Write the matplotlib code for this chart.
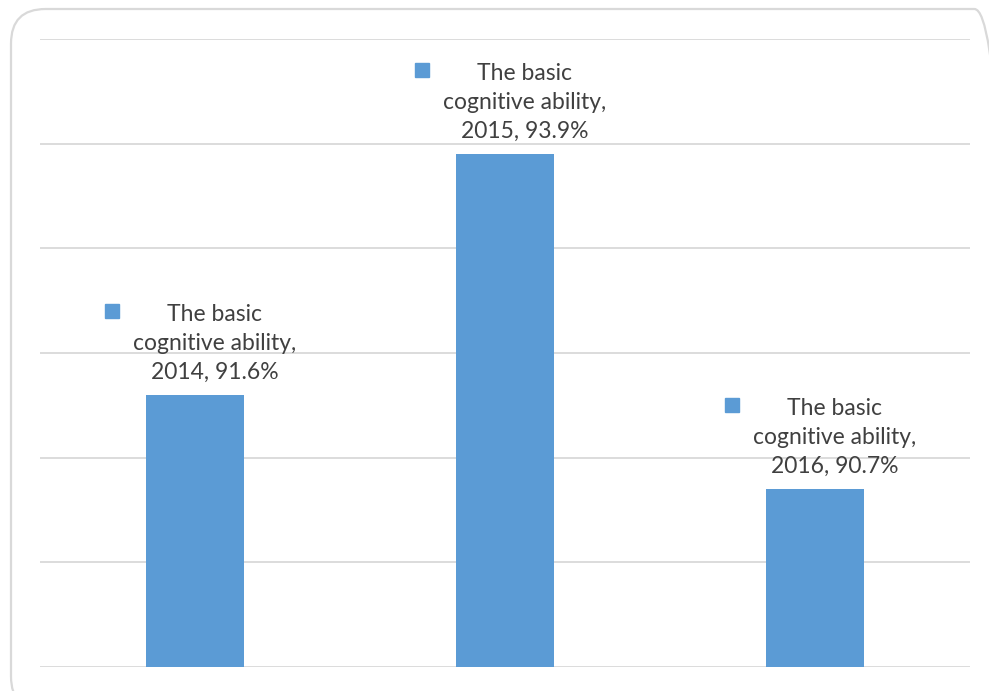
import matplotlib
matplotlib.use("Agg")
import matplotlib.pyplot as plt
from matplotlib.patches import FancyBboxPatch
from matplotlib.transforms import offset_copy

years = ["2014", "2015", "2016"]
series_name = "The basic\ncognitive ability"
values = [91.6, 93.9, 90.7]
y_ticks = [89, 90, 91, 92, 93, 94, 95]

bar_color = "#5B9BD5"
grid_color = "#D9D9D9"
text_color = "#404040"

fig = plt.figure(figsize=(9.89, 6.91), dpi=100)
W, H = 989, 691

# rounded chart-area border
border = FancyBboxPatch((11 / W, -20 / H), (W + 20 - 11) / W, (H - 9 + 20) / H,
                        boxstyle="round,pad=0,rounding_size=0.035",
                        transform=fig.transFigure, facecolor="none",
                        edgecolor=grid_color, linewidth=1.6, zorder=-1,
                        mutation_aspect=W / H)
fig.patches.append(border)

ax = fig.add_axes([40 / W, (H - 667) / H, (970 - 40) / W, (667 - 39) / H])
ax.set_facecolor("none")
x = list(range(len(years)))
ax.bar(x, values, width=0.315, color=bar_color, zorder=2)
ax.set_xlim(-0.5, 2.5)
ax.set_ylim(y_ticks[0], y_ticks[-1])
ax.set_yticks(y_ticks)
ax.yaxis.grid(True, color=grid_color, linewidth=1.3, zorder=0)
ax.set_axisbelow(True)
ax.tick_params(left=False, bottom=False, labelleft=False, labelbottom=False)
for s in ax.spines.values():
    s.set_visible(False)

for xi, yr, v in zip(x, years, values):
    label = f"{series_name},\n{yr}, {v}%"
    ax.annotate(label, (xi, v), xytext=(20, 12), textcoords="offset pixels",
                ha="center", va="bottom", fontsize=16.5, family="Lato",
                color=text_color, linespacing=1.46, zorder=3)
    tr = offset_copy(ax.transData, fig=fig, x=-83, y=84, units="dots")
    ax.plot([xi], [v], marker="s", markersize=9.5, color=bar_color,
            transform=tr, clip_on=False, zorder=3)

fig.savefig("out.png", dpi=100)
